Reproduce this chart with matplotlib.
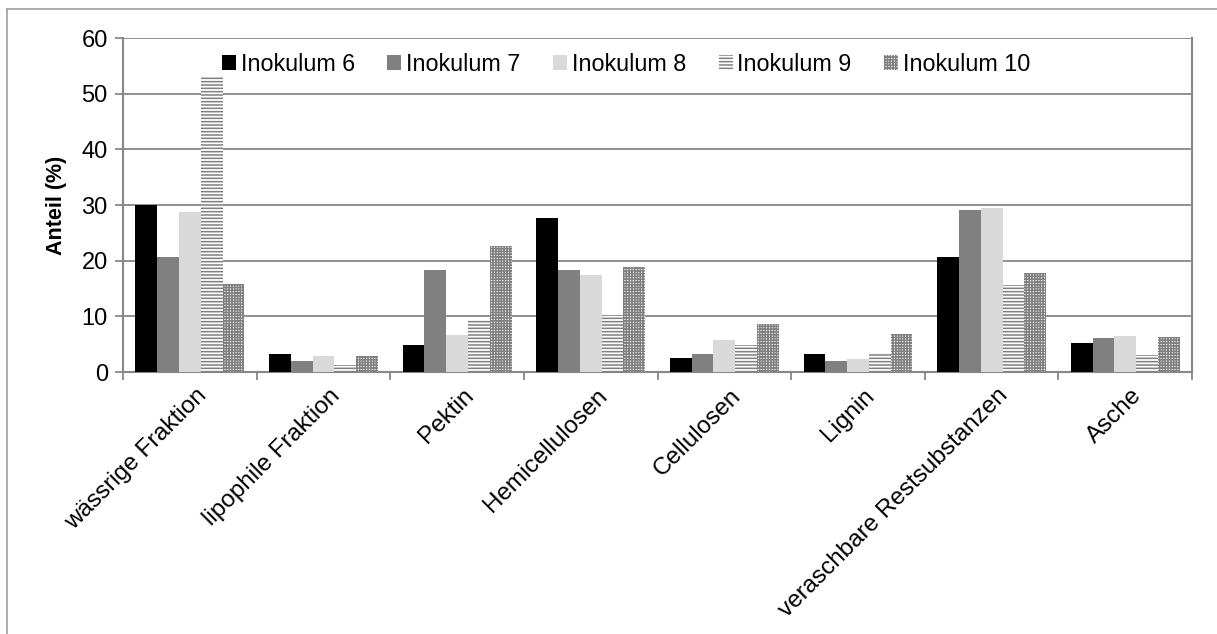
import matplotlib
matplotlib.use("Agg")
import matplotlib.pyplot as plt
import numpy as np
from matplotlib.lines import Line2D

categories = ["wässrige Fraktion", "lipophile Fraktion", "Pektin", "Hemicellulosen",
              "Cellulosen", "Lignin", "veraschbare Restsubstanzen", "Asche"]
series_names = ["Inokulum 6", "Inokulum 7", "Inokulum 8", "Inokulum 9", "Inokulum 10"]
inok6 = [30.0, 3.3, 4.8, 27.7, 2.6, 3.3, 20.7, 5.3]
inok7 = [20.7, 1.9, 18.3, 18.3, 3.3, 2.0, 29.1, 6.1]
inok8 = [28.8, 2.9, 6.6, 17.5, 5.8, 2.3, 29.4, 6.4]
inok9 = [53.2, 1.2, 9.3, 10.0, 4.8, 3.2, 15.6, 3.0]
inok10 = [15.9, 2.8, 22.7, 18.9, 8.7, 6.8, 17.8, 6.3]
values = [inok6, inok7, inok8, inok9, inok10]

plt.rcParams['font.family'] = ['Liberation Sans', 'DejaVu Sans']
plt.rcParams['font.size'] = 17

grid_col = '#878787'
styles = [
    dict(color='#000000'),
    dict(color='#808080'),
    dict(color='#d9d9d9'),
    dict(facecolor='white', edgecolor='#808080', hatch='-----', linewidth=0),
    dict(facecolor='white', edgecolor='#808080', hatch='++++++', linewidth=0),
]

fig = plt.figure(figsize=(12.17, 6.34), dpi=100)
ax = fig.add_axes([0.1011, 0.4132, 0.8784, 0.5268])

x = np.arange(len(categories))
w = 0.163
plt.rcParams['hatch.linewidth'] = 1.1
for i, (name, vals) in enumerate(zip(series_names, values)):
    ax.bar(x + (i - 2) * w, vals, w, label=name, zorder=3, **styles[i])

ax.set_xlim(-0.5, len(categories) - 0.5)
ax.set_ylim(0, 60)
ax.set_yticks(range(0, 61, 10))
ax.yaxis.grid(True, color=grid_col, linewidth=1.3, zorder=0)
ax.set_axisbelow(True)

ax.set_xticks(np.arange(len(categories) + 1) - 0.5)
ax.set_xticklabels([])
ax.tick_params(axis='x', length=6, width=1.3, color=grid_col, direction='out')
ax.tick_params(axis='y', length=6, width=1.3, color=grid_col, direction='out', pad=5)
for xi, lab in zip(x, categories):
    ax.annotate(lab, xy=(xi, 0), xycoords=('data', 'axes fraction'),
                xytext=(4, -9), textcoords='offset points', fontsize=17.5,
                rotation=45, ha='right', va='top', rotation_mode='anchor')

ax.spines['top'].set_visible(False)
for s in ['left', 'bottom', 'right']:
    ax.spines[s].set_color(grid_col)
    ax.spines[s].set_linewidth(1.5)

ax.set_ylabel("Anteil (%)", fontweight='bold', fontsize=15.5, labelpad=10)

ax.legend(loc='center left', bbox_to_anchor=(222 / 1217, 1 - 64.5 / 634),
          bbox_transform=fig.transFigure, ncol=5, frameon=False,
          borderpad=0, borderaxespad=0, fontsize=16.8,
          handlelength=0.6, handleheight=0.6, handletextpad=0.2, columnspacing=1.4)

# outer chart border
fig.add_artist(Line2D([7 / 1217, 7 / 1217], [0, 1 - 9 / 634], color='#a6a6a6', lw=1.3))
fig.add_artist(Line2D([7 / 1217, 1], [1 - 9 / 634, 1 - 9 / 634], color='#a6a6a6', lw=1.3))

fig.savefig("out.png", dpi=100)
